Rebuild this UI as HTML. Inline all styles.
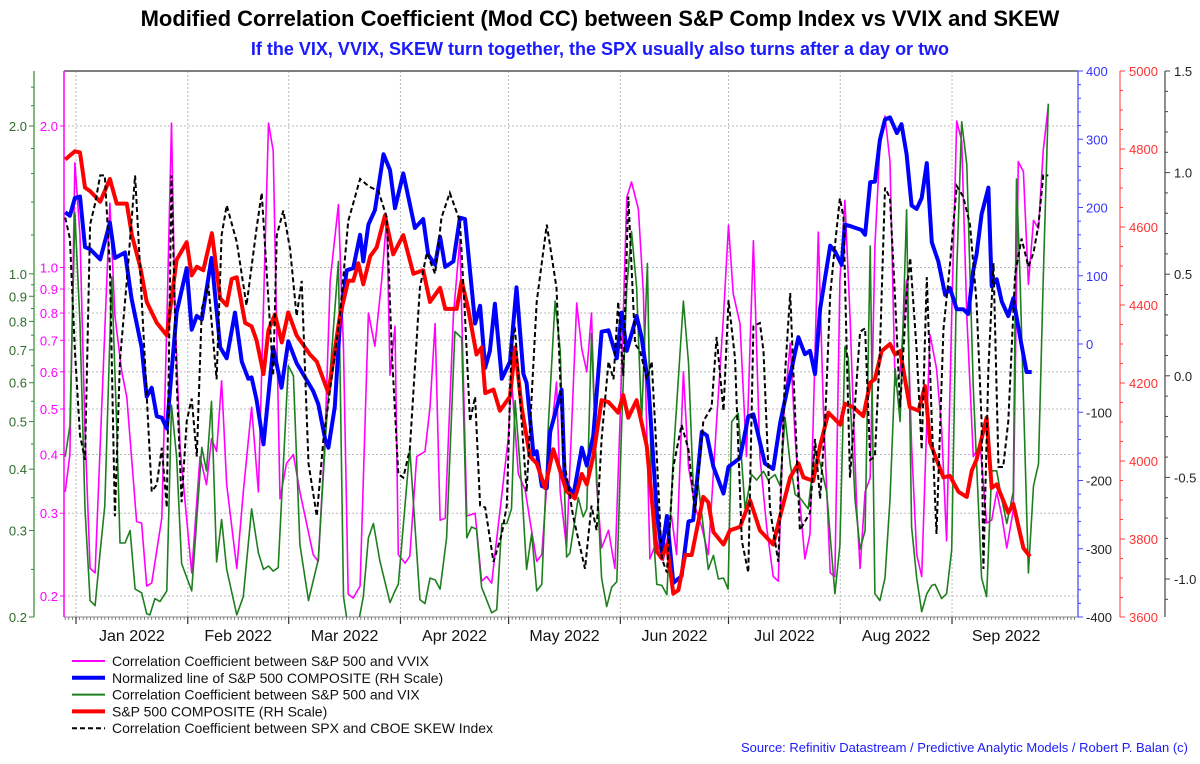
<!DOCTYPE html>
<html><head><meta charset="utf-8">
<style>
html,body{margin:0;padding:0;background:#fff;}
body{width:1200px;height:759px;overflow:hidden;font-family:"Liberation Sans",Arial,sans-serif;}
svg text{font-family:"Liberation Sans",Arial,sans-serif;}
</style></head>
<body>
<svg id="chart" width="1200" height="759" viewBox="0 0 1200 759" xmlns="http://www.w3.org/2000/svg">
<text x="600" y="26" text-anchor="middle" font-size="22" font-weight="bold" fill="#000">Modified Correlation Coefficient (Mod CC) between S&amp;P Comp Index vs VVIX and SKEW</text>
<text x="600" y="55" text-anchor="middle" font-size="18" font-weight="bold" fill="#1a1aff">If the VIX, VVIX, SKEW turn together, the SPX usually also turns after a day or two</text>
<g id="grid"></g>
<g id="axes"></g>
<g id="series"></g>
<g id="legend"></g>
<text x="1188" y="752" text-anchor="end" font-size="13" fill="#1a1aff">Source: Refinitiv Datastream / Predictive Analytic Models / Robert P. Balan (c)</text>
</svg>
<script>
// ---- month categories ----
const monthLabels = ["Jan 2022","Feb 2022","Mar 2022","Apr 2022","May 2022","Jun 2022","Jul 2022","Aug 2022","Sep 2022"];
const monthStartDays = [0,31,59,90,120,151,181,212,243];
// ---- tick labels ----
const ccTicks = [2.0,1.0,0.9,0.8,0.7,0.6,0.5,0.4,0.3,0.2];
const normTicks = [400,300,200,100,0,-100,-200,-300,-400];
const spxTicks = [5000,4800,4600,4400,4200,4000,3800,3600];
const skewTicks = [1.5,1.0,0.5,0.0,-0.5,-1.0];
// ---- S&P 500 COMPOSITE (red) ----
const spxDays = [-3.0,-0.3,1.1,2.5,3.9,6.7,9.4,11.3,14.1,15.5,17.8,19.6,22.4,25.2,27.9,30.7,32.1,33.5,35.3,37.7,40.0,41.8,43.2,44.6,46.9,48.7,50.1,52.0,53.4,55.2,57.1,58.9,61.2,64.9,66.8,70.0,73.2,75.5,76.9,78.3,79.7,81.6,83.4,85.7,88.0,90.8,93.6,96.3,98.2,101.0,102.4,105.6,107.0,108.8,111.1,112.5,113.5,115.8,117.6,120.4,121.8,123.6,125.9,127.8,130.1,132.4,136.1,138.4,140.3,141.7,143.5,145.8,147.7,150.4,151.8,153.2,155.5,158.3,161.1,162.5,163.9,165.7,167.1,169.0,170.8,174.0,175.4,176.8,179.6,181.4,184.2,187.0,189.7,193.4,195.3,198.1,200.4,201.8,204.5,206.4,208.7,212.0,213.3,215.6,218.4,220.3,221.6,223.5,225.8,227.2,228.6,231.3,233.7,235.5,236.9,240.6,242.4,244.8,247.1,248.5,249.8,252.6,254.0,255.4,258.6,260.0,262.8,264.6];
const spxVals = [4773,4794,4791,4701,4692,4665,4723,4660,4660,4579,4498,4408,4354,4322,4516,4561,4476,4498,4489,4584,4417,4399,4467,4471,4354,4345,4309,4223,4336,4376,4304,4381,4322,4273,4255,4174,4372,4462,4462,4507,4453,4525,4548,4629,4530,4579,4480,4489,4408,4444,4390,4390,4462,4390,4273,4291,4174,4183,4129,4165,4291,4138,4012,3994,3931,4030,3922,3904,3967,3940,4012,4156,4151,4124,4169,4111,4156,4039,3768,3750,3786,3660,3669,3759,3759,3908,3894,3818,3786,3822,3831,3899,3822,3786,3858,3958,3994,3958,3949,4039,4124,4093,4147,4138,4115,4201,4210,4282,4300,4273,4282,4138,4129,4192,4048,3958,3962,3921,3908,3976,4003,4111,3931,3940,3867,3890,3777,3755];
// ---- Normalized line (blue) ----
const normDays = [-3.0,-1.7,-0.3,1.1,2.5,3.9,6.7,9.4,10.8,13.6,15.4,18.2,19.6,21.0,22.4,23.8,25.2,27.9,30.7,32.1,33.5,34.9,37.6,40.0,41.8,44.1,46.0,47.8,48.7,50.1,52.0,54.7,57.0,58.9,61.2,65.8,67.2,69.1,70.0,71.8,73.2,75.1,76.9,78.8,79.7,81.1,82.9,85.3,87.1,88.5,90.8,94.0,96.3,97.7,99.6,101.0,102.4,104.7,106.5,107.9,110.7,112.1,113.5,114.8,116.2,118.1,120.4,122.2,124.1,125.0,126.9,127.8,129.2,130.6,131.5,134.7,135.6,138.0,140.3,141.7,143.5,145.8,147.7,150.0,151.4,152.8,155.5,156.9,158.8,161.1,162.5,163.9,165.7,168.0,169.9,171.2,173.6,175.0,176.8,179.6,181.0,184.2,186.5,187.9,191.1,193.4,195.3,198.1,200.4,202.2,203.6,205.0,206.4,209.2,210.5,212.4,213.3,215.2,217.9,218.9,220.3,221.6,223.0,224.4,225.8,227.7,229.0,230.4,231.8,233.2,234.6,236.0,237.4,239.2,241.1,242.4,244.3,246.1,247.5,248.9,249.8,251.2,253.1,254.0,255.4,256.8,258.6,260.0,261.9,263.7,265.1];
const normVals = [193,188,214,216,142,139,124,178,126,134,67,-5,-77,-64,-106,-108,-124,46,111,21,41,36,126,-5,-21,46,-26,-51,-49,-82,-147,-5,-64,4,-28,-69,-88,-139,-152,-92,30,108,111,160,121,175,196,278,255,199,250,170,183,131,116,157,113,121,185,183,30,56,-35,-10,59,-51,-26,83,-44,-57,-162,-157,-208,-211,-129,-67,-201,-221,-152,-178,-134,18,20,-21,46,-10,41,10,-62,-247,-304,-252,-350,-340,-260,-258,-129,-134,-180,-219,-180,-167,-106,-103,-175,-183,-116,-46,10,-15,-10,-44,51,144,136,116,175,172,167,160,237,238,299,329,332,309,322,278,203,198,214,265,149,121,72,82,51,51,44,108,131,190,229,85,95,62,41,67,10,-41,-41];
// ---- Corr SPX vs VVIX (magenta) ----
const vvixDays = [-3.0,-1.7,-0.3,1.1,2.5,3.9,5.3,9.4,10.8,12.7,14.1,16.8,18.2,19.6,21.0,23.8,25.2,26.5,27.5,28.9,32.1,34.4,36.2,37.6,39.0,40.4,41.8,44.6,46.4,48.7,50.6,53.4,54.7,56.6,58.4,60.3,62.1,65.8,67.2,69.1,70.5,72.8,74.2,75.5,76.9,78.8,81.1,82.9,84.8,86.2,87.1,88.5,89.4,91.3,92.6,94.5,96.8,98.2,99.6,101.0,102.4,104.7,106.5,108.4,110.7,112.5,113.9,115.3,116.2,118.1,119.9,120.8,122.7,124.6,125.9,127.8,129.2,131.0,133.3,134.3,136.1,138.9,140.3,141.7,143.0,144.4,145.8,147.7,149.5,150.9,152.8,154.1,156.0,157.4,159.2,161.1,162.9,165.2,166.6,168.5,169.9,171.7,173.6,175.4,177.7,179.6,181.0,182.3,184.2,186.0,187.9,189.7,191.6,193.4,194.8,196.2,198.1,199.5,200.8,202.2,203.6,204.5,205.9,207.3,209.2,210.5,211.9,213.3,214.7,216.6,217.5,218.9,220.3,221.6,223.0,224.4,225.8,227.2,228.6,230.4,231.8,233.2,234.6,236.0,236.9,238.7,240.1,241.5,242.9,244.3,245.7,247.1,248.9,250.8,252.6,254.0,255.4,256.8,258.2,260.0,261.4,262.8,264.2,265.6,267.0,268.3,269.7];
const vvixVals = [0.333,0.40,1.67,1.17,0.45,0.229,0.224,1.37,0.79,0.60,0.53,0.288,0.286,0.21,0.213,0.293,0.76,2.03,0.79,0.41,0.224,0.396,0.345,0.432,0.406,0.574,0.345,0.229,0.333,0.504,0.333,2.03,1.77,0.322,0.383,0.40,0.333,0.245,0.237,0.44,0.94,1.36,0.67,0.202,0.198,0.21,0.80,0.68,0.94,1.28,0.59,0.75,0.245,0.235,0.243,0.396,0.406,0.504,0.76,0.29,0.293,0.79,1.15,0.296,0.30,0.215,0.22,0.213,0.245,0.328,0.432,0.58,0.364,0.336,0.29,0.237,0.245,0.383,0.57,0.333,0.253,0.84,0.67,0.60,0.80,0.345,0.253,0.276,0.229,0.47,1.41,1.52,1.33,0.88,0.24,0.262,0.238,0.296,0.245,0.60,0.377,0.31,0.28,0.245,0.47,0.79,1.23,0.88,0.76,0.396,1.14,0.396,0.28,0.22,0.215,0.47,0.69,0.432,0.316,0.24,0.271,0.47,1.19,0.504,0.224,0.22,0.94,1.39,0.79,0.305,0.229,0.333,0.357,1.11,1.81,2.10,1.68,0.56,0.60,0.94,0.417,0.245,0.22,0.47,0.72,0.61,0.455,0.262,0.79,2.05,1.86,0.79,0.396,0.42,0.286,0.29,0.333,0.296,0.253,0.305,1.68,1.60,0.92,1.26,1.21,1.77,2.21];
// ---- Corr SPX vs VIX (green) ----
const vixDays = [-3.0,-1.7,-0.3,1.1,2.5,3.9,5.3,6.7,8.0,9.9,11.3,12.2,13.6,15.0,16.4,18.2,19.6,20.5,21.9,23.3,25.2,26.5,27.9,29.3,32.1,34.9,36.2,37.6,39.0,40.4,41.8,44.6,46.4,48.7,50.6,52.0,53.4,54.7,56.1,58.9,60.3,62.1,64.5,67.2,69.5,72.8,74.2,75.5,76.9,78.3,79.7,81.1,82.5,84.3,87.1,88.5,89.4,92.6,95.4,96.8,98.2,99.6,101.0,102.8,105.1,107.0,108.4,109.7,111.1,112.5,115.3,116.7,118.1,119.5,120.8,121.8,123.6,125.0,126.4,127.8,129.2,131.0,132.9,134.3,136.1,137.0,139.3,140.7,141.7,143.0,144.4,145.8,147.2,148.6,150.0,151.4,152.8,154.1,155.5,156.9,158.5,159.7,161.1,162.5,163.9,165.7,168.5,169.9,171.2,172.6,174.0,175.4,176.8,178.2,179.6,180.9,181.9,183.7,185.6,187.4,188.8,190.7,192.0,193.9,195.3,196.7,198.1,199.5,200.8,203.1,205.0,206.4,208.2,210.5,211.9,213.3,214.2,216.1,217.5,218.9,220.3,221.6,223.0,224.4,225.8,227.2,228.6,230.4,231.8,233.2,234.6,236.0,237.4,238.3,240.1,241.5,242.9,244.3,245.7,247.1,248.9,251.2,252.6,254.0,255.4,256.8,258.2,260.0,260.9,261.9,264.2,265.6,267.0,268.3,269.7];
const vixVals = [0.424,0.49,1.33,0.79,0.332,0.216,0.211,0.272,0.337,0.985,0.49,0.283,0.283,0.30,0.228,0.224,0.203,0.202,0.218,0.215,0.226,0.54,0.424,0.257,0.226,0.443,0.397,0.55,0.259,0.316,0.25,0.202,0.22,0.332,0.27,0.25,0.254,0.248,0.252,0.65,0.62,0.281,0.216,0.262,0.50,1.06,0.22,0.19,0.19,0.194,0.22,0.29,0.31,0.26,0.214,0.226,0.233,0.44,0.217,0.213,0.24,0.238,0.228,0.29,0.763,0.74,0.29,0.305,0.302,0.23,0.204,0.207,0.31,0.31,0.332,0.552,0.37,0.25,0.296,0.226,0.233,0.49,0.88,0.70,0.265,0.27,0.35,0.32,0.332,0.756,0.39,0.24,0.21,0.23,0.236,0.50,0.94,1.22,0.94,0.50,1.05,0.332,0.233,0.232,0.222,0.424,0.88,0.66,0.37,0.373,0.305,0.25,0.267,0.239,0.24,0.228,0.50,0.52,0.332,0.39,0.38,0.396,0.38,0.39,0.37,0.51,0.41,0.355,0.35,0.332,0.44,0.412,0.36,0.223,0.28,0.71,0.675,0.347,0.275,0.30,1.14,0.223,0.216,0.24,0.347,0.641,0.50,1.35,0.305,0.24,0.205,0.223,0.232,0.233,0.218,0.223,0.274,1.01,2.04,1.67,0.585,0.24,0.22,0.397,0.397,0.347,0.31,0.36,1.56,0.968,0.246,0.37,0.41,0.968,2.22];
// ---- Corr SPX vs SKEW (black dashed) ----
const skewDays = [-3.0,-1.7,-0.3,1.1,2.5,3.9,5.3,6.7,8.0,9.4,10.8,12.2,14.1,16.4,17.8,21.0,22.4,23.8,25.2,26.5,27.9,29.3,30.7,32.1,33.5,34.9,36.7,39.0,40.4,41.8,44.6,47.3,50.1,51.5,54.7,55.7,57.5,59.4,61.2,62.6,64.5,66.8,68.6,73.2,75.5,78.8,81.1,83.9,86.2,87.6,89.4,90.8,92.6,95.4,97.3,99.6,101.4,103.7,106.5,107.9,109.3,110.7,112.1,113.5,115.8,118.1,119.5,120.9,121.8,123.6,125.0,127.8,130.6,133.3,135.2,137.9,141.2,143.0,144.4,145.8,147.7,149.1,150.4,151.8,153.2,155.1,156.5,158.3,159.7,161.1,162.5,163.9,165.7,168.0,169.9,171.7,174.0,176.3,177.7,179.6,181.0,182.8,184.7,186.5,187.9,189.7,190.7,192.5,194.8,196.7,198.1,199.0,200.8,203.6,205.0,206.4,207.8,209.2,210.5,211.9,212.9,213.8,214.7,216.1,217.5,218.9,220.3,221.6,223.0,224.4,225.8,227.2,228.6,230.4,231.4,233.2,234.6,236.0,237.4,238.7,240.6,242.4,244.3,246.1,248.0,249.8,251.2,251.7,253.1,254.5,255.9,257.2,258.6,260.5,262.3,264.2,265.6,267.0,268.3,269.7];
const skewVals = [0.779,0.675,0.122,-0.293,-0.414,0.744,0.848,0.986,0.986,0.537,-0.691,0.078,0.467,0.986,0.519,-0.57,-0.536,-0.354,-0.648,0.986,-0.017,-0.622,-0.224,-0.112,-0.397,0.329,0.45,-0.017,0.692,0.839,0.658,0.346,0.727,0.90,0.0,0.692,0.813,0.623,0.294,0.467,-0.432,-0.691,-0.319,0.294,0.761,0.969,0.934,0.908,0.779,0.122,-0.484,-0.501,-0.363,0.433,0.606,0.502,0.779,0.90,0.761,0.294,-0.224,-0.103,-0.639,-0.648,-0.916,-0.778,-0.639,0.191,0.225,-0.224,-0.57,0.364,0.744,0.433,-0.397,-0.691,-0.95,-0.639,-0.76,-0.311,0.07,-0.017,0.364,0.0,0.882,0.156,0.122,-0.017,0.07,-0.397,-0.898,-0.968,-0.449,-0.241,-0.363,-0.674,-0.224,-0.155,0.191,-0.172,0.372,0.087,-0.812,-0.968,0.243,0.26,0.122,-0.657,-0.916,0.018,0.407,0.018,-0.76,-0.674,-0.311,-0.605,-0.224,0.398,0.64,0.874,0.779,0.122,-0.501,-0.138,0.217,0.234,-0.414,-0.397,0.122,0.926,0.874,0.381,-0.155,0.398,0.58,0.122,-0.363,0.485,-0.224,-0.778,0.225,0.545,0.934,0.882,0.744,0.364,-0.224,-0.951,0.035,0.554,-0.449,-0.449,-0.224,0.502,0.675,0.537,0.606,0.744,0.986,0.986];

const NS = "http://www.w3.org/2000/svg";
const PL = 64, PR = 1078, PT = 71, PB = 617;
function xDay(d){ return 76 + d*3.605; }
function yNorm(v){ return PT + (400 - v)/800*(PB-PT); }
function ySpx(v){ return PT + (5000 - v)/1400*(PB-PT); }
function yVvix(v){ return 126 + (Math.log10(2) - Math.log10(v))*470; }
function yVix(v){ return 617 - (Math.log10(v) - Math.log10(0.2))*491; }
function ySkew(v){ return PT + (1.5 - v)*203.2; }
function mk(tag, attrs, parent){ const e=document.createElementNS(NS,tag); for(const k in attrs) e.setAttribute(k,attrs[k]); parent.appendChild(e); return e; }
const gridG=document.getElementById('grid'), axesG=document.getElementById('axes'), seriesG=document.getElementById('series'), legendG=document.getElementById('legend');

// gridlines
ccTicks.forEach(t=>{ const y=yVvix(t);
  const l=mk('line',{x1:PL,x2:PR,y1:y,y2:y,stroke:'#bbb','stroke-dasharray':'2,2','stroke-width':1},gridG);
  
   });
monthStartDays.forEach(d=>{ const x=xDay(d);
  const l=mk('line',{x1:x,x2:x,y1:PT,y2:PB,stroke:'#bbb','stroke-dasharray':'2,2','stroke-width':1},gridG);
  
   });

// plot frame
const topBorder=mk('line',{x1:PL,x2:PR,y1:PT,y2:PT,stroke:'#555','stroke-width':1.5},axesG);


const botAxis=mk('line',{x1:PL,x2:PR,y1:PB,y2:PB,stroke:'#888','stroke-width':1},axesG);


for(let d=-3; d<=277; d++){ const x=xDay(d); if(x<PL||x>PR) continue;
  const t=mk('line',{x1:x,x2:x,y1:PB,y2:PB+3,stroke:'#666','stroke-width':0.8},axesG);
  
   }
monthStartDays.forEach((d,i)=>{ const x=xDay(d);
  const t=mk('line',{x1:x,x2:x,y1:PB,y2:PB+7,stroke:'#333','stroke-width':1.2},axesG);
  
  
  const nd = i<monthStartDays.length-1 ? monthStartDays[i+1] : 273;
  const lb=mk('text',{x:xDay((d+nd)/2),y:641,'text-anchor':'middle','font-size':16,fill:'#111'},axesG);
  lb.textContent=monthLabels[i];
  
   });

// magenta axis (left inner)
const ma=mk('line',{x1:PL,x2:PL,y1:PT,y2:PB,stroke:'#ff00ff','stroke-width':1.5},axesG);


ccTicks.forEach(t=>{ const y=yVvix(t);
  const tk=mk('line',{x1:PL-4,x2:PL,y1:y,y2:y,stroke:'#ff00ff'},axesG);
  
  
  const lb=mk('text',{x:PL-6,y:y+5,'text-anchor':'end','font-size':13,fill:'#ff00ff'},axesG);
  lb.textContent=t.toFixed(1);
  
   });
// green axis (left outer)
const GX=34;
const ga=mk('line',{x1:GX,x2:GX,y1:PT,y2:PB,stroke:'#2e8b2e','stroke-width':1.2},axesG);


[0.2,0.3,0.4,0.5,0.6,0.7,0.8,0.9,1.0,2.0].forEach(t=>{ const y=yVix(t);
  const tk=mk('line',{x1:GX-5,x2:GX,y1:y,y2:y,stroke:'#2e8b2e'},axesG);
  
  
  const lb=mk('text',{x:GX-7,y:y+5,'text-anchor':'end','font-size':13,fill:'#2e6b2e'},axesG);
  lb.textContent=t.toFixed(1);
  
   });
[0.25,0.35,0.45,0.55,0.65,0.75,0.85,0.95,1.2,1.4,1.6,1.8,2.2,2.4].forEach(t=>{ const y=yVix(t); if(y<PT) return;
  const tk=mk('line',{x1:GX-3,x2:GX,y1:y,y2:y,stroke:'#2e8b2e'},axesG);
  
   });

// blue axis
const BX=PR;
const ba=mk('line',{x1:BX,x2:BX,y1:PT,y2:PB,stroke:'#6666ff','stroke-width':1.5},axesG);


for(let v=-400; v<=400; v+=20){ const y=yNorm(v); const major=v%100===0;
  const tk=mk('line',{x1:BX,x2:BX+(major?5:3),y1:y,y2:y,stroke:'#4444ff'},axesG);
  
   }
normTicks.forEach(t=>{ const lb=mk('text',{x:BX+8,y:yNorm(t)+5,'font-size':13,fill:t>=0?'#3333ff':'#222'},axesG);
  lb.textContent=String(t);
  
   });
// red axis
const RX=1120;
const ra=mk('line',{x1:RX,x2:RX,y1:PT,y2:PB,stroke:'#ff5555','stroke-width':1.2},axesG);


for(let v=3600; v<=5000; v+=50){ const y=ySpx(v); const major=v%200===0;
  const tk=mk('line',{x1:RX,x2:RX+(major?5:3),y1:y,y2:y,stroke:'#ff4444'},axesG);
  
   }
spxTicks.forEach(t=>{ const lb=mk('text',{x:RX+9,y:ySpx(t)+5,'font-size':13,fill:'#ff3333'},axesG);
  lb.textContent=String(t);
  
   });
// black axis
const KX=1165;
const ka=mk('line',{x1:KX,x2:KX,y1:PT,y2:PB,stroke:'#444','stroke-width':1.2},axesG);


for(let v=-1.1; v<=1.5001; v+=0.1){ const y=ySkew(v); if(y>PB) continue; const major=Math.abs(v*2-Math.round(v*2))<1e-6;
  const tk=mk('line',{x1:KX,x2:KX+(major?5:3),y1:y,y2:y,stroke:'#444'},axesG);
  
   }
skewTicks.forEach(t=>{ const lb=mk('text',{x:KX+9,y:ySkew(t)+5,'font-size':13,fill:'#222'},axesG);
  lb.textContent=t.toFixed(1);
  
   });

// series
function pathOf(days, vals, yf){ return days.map((d,i)=>(i?'L':'M')+xDay(d).toFixed(1)+','+yf(vals[i]).toFixed(1)).join(''); }
const clipEl=mk('clipPath',{id:'pc'},seriesG); mk('rect',{x:PL,y:PT,width:PR-PL,height:PB-PT},clipEl);
const sg=mk('g',{'clip-path':'url(#pc)'},seriesG);
const pV=mk('path',{d:pathOf(vvixDays,vvixVals,yVvix),fill:'none',stroke:'#ff00ff','stroke-width':1.6,'stroke-linejoin':'round'},sg);


const pG=mk('path',{d:pathOf(vixDays,vixVals,yVix),fill:'none',stroke:'#1e7f1e','stroke-width':1.6,'stroke-linejoin':'round'},sg);


const pB=mk('path',{d:pathOf(normDays,normVals,yNorm),fill:'none',stroke:'#0000ff','stroke-width':4,'stroke-linejoin':'round'},sg);


const pR=mk('path',{d:pathOf(spxDays,spxVals,ySpx),fill:'none',stroke:'#ff0000','stroke-width':4,'stroke-linejoin':'round'},sg);


const pK=mk('path',{d:pathOf(skewDays,skewVals,ySkew),fill:'none',stroke:'#000','stroke-width':2,'stroke-dasharray':'5,3'},sg);



// legend
const legItems=[
 ["Correlation Coefficient between S&P 500 and VVIX","#ff00ff",2,null,"legend-vvix"],
 ["Normalized line of S&P 500 COMPOSITE (RH Scale)","#0000ff",4,null,"legend-normalized"],
 ["Correlation Coefficient between S&P 500 and VIX","#1e7f1e",2,null,"legend-vix"],
 ["S&P 500 COMPOSITE (RH Scale)","#ff0000",4,null,"legend-spx"],
 ["Correlation Coefficient between SPX and CBOE SKEW Index","#000",2,"5,3","legend-skew"]];
legItems.forEach((it,i)=>{ const y=661+i*16.8;
  const a={x1:72,x2:105,y1:y,y2:y,stroke:it[1],'stroke-width':it[2]}; if(it[3]) a['stroke-dasharray']=it[3];
  const ln=mk('line',a,legendG);
  
  
  const tx=mk('text',{x:112,y:y+5,'font-size':14,fill:'#111'},legendG);
  tx.textContent=it[0];
  
   });
</script>
</body></html>
